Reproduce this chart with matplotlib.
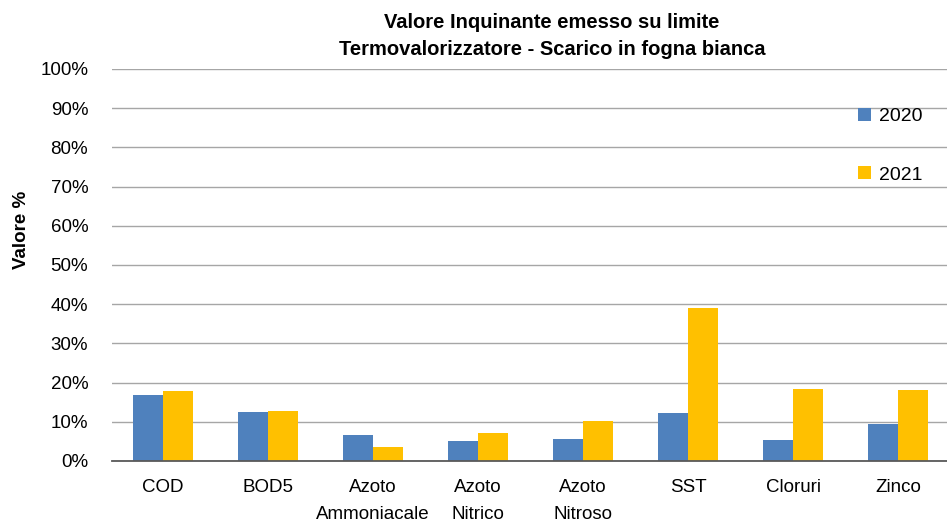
import matplotlib
matplotlib.use("Agg")
import matplotlib.pyplot as plt
import numpy as np
from matplotlib.ticker import PercentFormatter

# ── Dati ─────────────────────────────────────────────────────────────────────
categorie = ["COD", "BOD5", "Azoto\nAmmoniacale", "Azoto\nNitrico",
             "Azoto\nNitroso", "SST", "Cloruri", "Zinco"]
valori_2020 = [16.9, 12.5, 6.6, 5.1, 5.5, 12.2, 5.4, 9.4]
valori_2021 = [17.8, 12.7, 3.6, 7.1, 10.2, 39.0, 18.4, 18.2]
anni = ["2020", "2021"]
colori = ["#4F81BD", "#FFC000"]

plt.rcParams["font.family"] = ["Liberation Sans", "DejaVu Sans"]

fig = plt.figure(figsize=(9.47, 5.26), dpi=100)
ax = fig.add_axes([0.118, 0.1236, 0.882, 0.7454])

x = np.arange(len(categorie))
w = 0.286
ax.bar(x - w / 2, valori_2020, width=w, color=colori[0], label=anni[0], zorder=3)
ax.bar(x + w / 2, valori_2021, width=w, color=colori[1], label=anni[1], zorder=3)

ax.set_xlim(-0.486, 7.464)
ax.set_ylim(0, 100)
ax.set_yticks(np.arange(0, 101, 10))
ax.yaxis.set_major_formatter(PercentFormatter(decimals=0))
ax.set_xticks(x)
ax.set_xticklabels(categorie, fontsize=13.5, linespacing=1.75)
ax.tick_params(axis="y", labelsize=13.5, length=0, pad=17)
ax.tick_params(axis="x", length=0, pad=13)

ax.grid(True, axis="y", color="#A6A6A6", linewidth=1, zorder=0)
for s in ["left", "right", "top"]:
    ax.spines[s].set_visible(False)
ax.spines["bottom"].set_color("#595959")
ax.spines["bottom"].set_linewidth(1.3)
ax.spines["bottom"].set_zorder(4)

# etichetta asse y un po' sopra il centro, come nell'originale
ax.set_ylabel("Valore %", fontsize=13.5, fontweight="bold")
ax.yaxis.set_label_coords(-0.098, 0.59)

fig.text(0.583, 0.975, "Valore Inquinante emesso su limite\nTermovalorizzatore - Scarico in fogna bianca",
         ha="center", va="top", fontsize=14.5, fontweight="bold", linespacing=1.5)

ax.legend(loc="upper left", bbox_to_anchor=(0.872, 0.945), frameon=False,
          fontsize=14, handlelength=0.67, handleheight=0.67,
          handletextpad=0.45, labelspacing=2.1)

plt.savefig("out.png", dpi=100)
